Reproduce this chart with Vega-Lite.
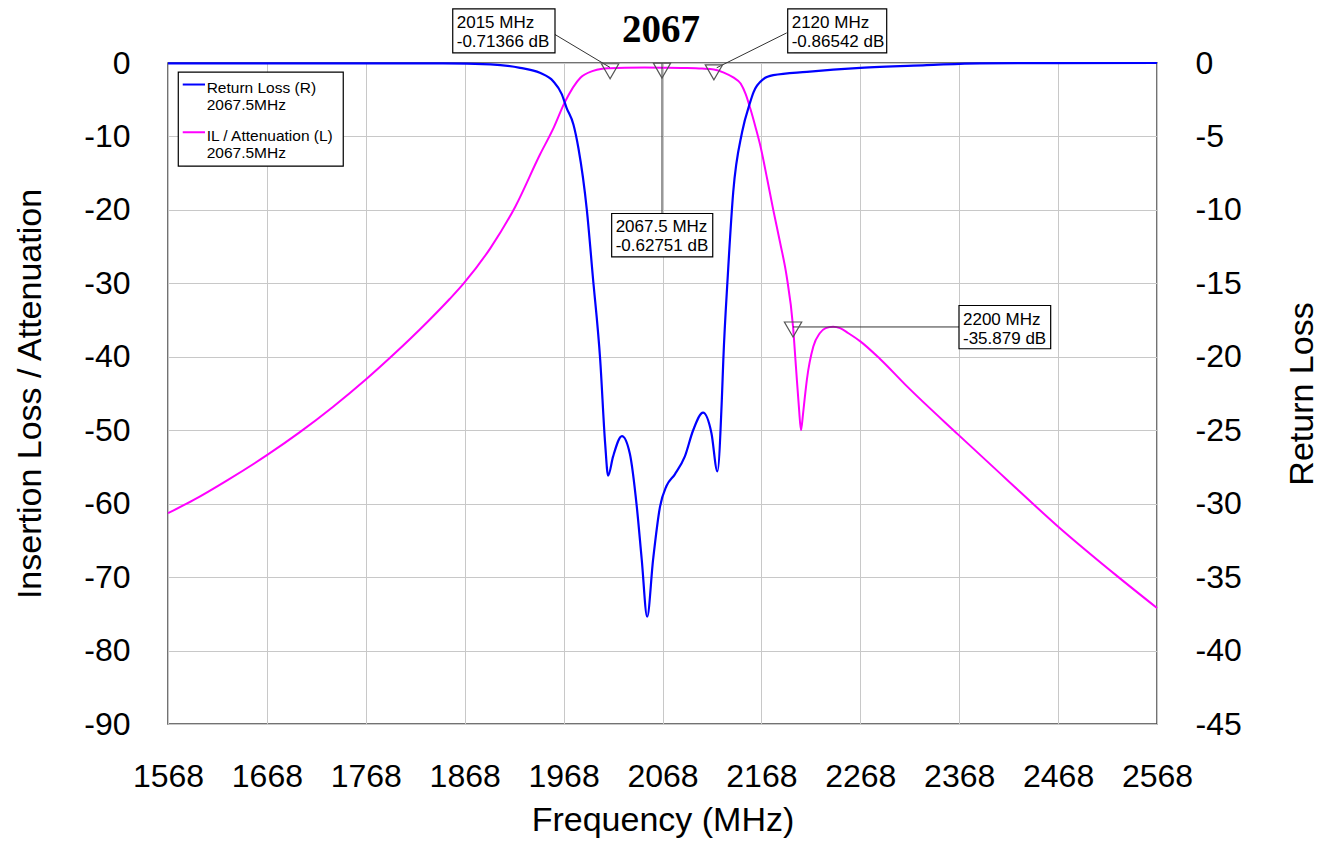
{
  "$schema": "https://vega.github.io/schema/vega-lite/v6.json",
  "width": 989,
  "height": 661,
  "autosize": {"type": "none"},
  "padding": {"left": 168, "top": 63, "right": 170, "bottom": 118},
  "background": "white",
  "config": {
    "font": "Liberation Sans",
    "view": {"stroke": "#444444", "strokeWidth": 1.5},
    "axis": {"ticks": false, "domain": false, "labelFont": "Liberation Sans", "titleFont": "Liberation Sans", "labelColor": "#000000", "titleColor": "#000000", "titleFontWeight": "normal", "labelFontSize": 32, "titleFontSize": 34, "gridColor": "#c8c8c8", "gridWidth": 1, "gridOpacity": 1, "labelExpr": "toString(datum.value)"}
  },
  "datasets": {
    "il": [
      {"x": 1568, "y": -61.3}, {"x": 1594, "y": -59.5}, {"x": 1627, "y": -56.9}, {"x": 1668, "y": -53.4},
      {"x": 1701, "y": -50.3}, {"x": 1735, "y": -46.8}, {"x": 1768, "y": -43.1}, {"x": 1796, "y": -39.7},
      {"x": 1830, "y": -35.3}, {"x": 1853, "y": -32.1}, {"x": 1867, "y": -30.0}, {"x": 1894, "y": -25.2},
      {"x": 1919, "y": -19.6}, {"x": 1944, "y": -12.5}, {"x": 1958, "y": -8.8}, {"x": 1969, "y": -5.4},
      {"x": 1985, "y": -2.0}, {"x": 1997, "y": -1.1}, {"x": 2007, "y": -0.78}, {"x": 2015, "y": -0.71},
      {"x": 2030, "y": -0.64}, {"x": 2050, "y": -0.61}, {"x": 2067.5, "y": -0.63}, {"x": 2090, "y": -0.67},
      {"x": 2108, "y": -0.75}, {"x": 2120, "y": -0.87}, {"x": 2130, "y": -1.3}, {"x": 2140, "y": -2.0},
      {"x": 2147, "y": -2.8}, {"x": 2152, "y": -4.2}, {"x": 2157, "y": -6.3}, {"x": 2162, "y": -8.7},
      {"x": 2167, "y": -11.3}, {"x": 2174, "y": -15.9}, {"x": 2180, "y": -20.0}, {"x": 2187, "y": -24.5},
      {"x": 2193.5, "y": -29.0}, {"x": 2200, "y": -35.9}, {"x": 2203, "y": -41.5}, {"x": 2206, "y": -47.0},
      {"x": 2208, "y": -50.0}, {"x": 2210, "y": -47.9}, {"x": 2212, "y": -45.4}, {"x": 2214, "y": -43.1},
      {"x": 2220.5, "y": -38.6}, {"x": 2227, "y": -36.8}, {"x": 2233, "y": -36.1}, {"x": 2240.5, "y": -35.9},
      {"x": 2247.5, "y": -36.1}, {"x": 2256, "y": -36.8}, {"x": 2268, "y": -37.9}, {"x": 2288, "y": -40.3},
      {"x": 2315, "y": -44.0}, {"x": 2367, "y": -50.6}, {"x": 2416, "y": -56.7}, {"x": 2467, "y": -63.0},
      {"x": 2529, "y": -70.0}, {"x": 2568, "y": -74.2}
    ],
    "rl": [
      {"x": 1568, "y": -0.02}, {"x": 1846, "y": -0.03}, {"x": 1894, "y": -0.1}, {"x": 1924, "y": -0.33},
      {"x": 1944, "y": -0.67}, {"x": 1957.5, "y": -1.24}, {"x": 1966, "y": -2.1}, {"x": 1971, "y": -3.05},
      {"x": 1978, "y": -4.2}, {"x": 1983, "y": -5.8}, {"x": 1991.5, "y": -10.0}, {"x": 1997.5, "y": -14.5},
      {"x": 2005, "y": -20.2}, {"x": 2010, "y": -25.9}, {"x": 2013, "y": -28.1}, {"x": 2018, "y": -26.8},
      {"x": 2027, "y": -25.4}, {"x": 2035, "y": -26.6}, {"x": 2042, "y": -30.2}, {"x": 2047, "y": -33.8},
      {"x": 2052.5, "y": -37.7}, {"x": 2058.5, "y": -33.8}, {"x": 2065.5, "y": -30.2}, {"x": 2072, "y": -28.8},
      {"x": 2080.5, "y": -28.0}, {"x": 2090.5, "y": -26.8}, {"x": 2099, "y": -25.0}, {"x": 2109, "y": -23.8},
      {"x": 2117.5, "y": -25.2}, {"x": 2123.5, "y": -27.8}, {"x": 2128, "y": -22.9}, {"x": 2129.5, "y": -20.2},
      {"x": 2134, "y": -14.5}, {"x": 2139.5, "y": -8.8}, {"x": 2148.5, "y": -4.7}, {"x": 2156.5, "y": -2.7},
      {"x": 2160, "y": -2.0}, {"x": 2170, "y": -1.1}, {"x": 2180, "y": -0.83}, {"x": 2214, "y": -0.6},
      {"x": 2268, "y": -0.33}, {"x": 2335, "y": -0.15}, {"x": 2389, "y": -0.02}, {"x": 2568, "y": 0}
    ],
    "markers": [
      {"x": 2015, "y": -0.71366}, {"x": 2067.5, "y": -0.62751}, {"x": 2120, "y": -0.86542}, {"x": 2200, "y": -35.879}
    ],
    "leaders": [
      {"x": 1959.3, "y": 3.88, "x2": 2014.9, "y2": -0.6},
      {"x": 2193.6, "y": 4.1, "x2": 2122.8, "y2": -0.65},
      {"x": 2067.5, "y": 0, "x2": 2067.5, "y2": -20.49},
      {"x": 2200, "y": -35.94, "x2": 2367.8, "y2": -35.94}
    ],
    "boxes": [
      {"x": 1855.9, "x2": 1959.3, "y": 7.38, "y2": 1.39, "label": "2015 MHz\n-0.71366 dB"},
      {"x": 2194.6, "x2": 2294.7, "y": 7.38, "y2": 1.39, "label": "2120 MHz\n-0.86542 dB"},
      {"x": 2016.6, "x2": 2118.8, "y": -20.49, "y2": -26.39, "label": "2067.5 MHz\n-0.62751 dB"},
      {"x": 2367.8, "x2": 2460.5, "y": -33.02, "y2": -38.91, "label": "2200 MHz\n-35.879 dB"}
    ],
    "legendbox": [
      {"x": 1578.4, "x2": 1745.2, "y": -1.25, "y2": -14.05}
    ],
    "legendlines": [
      {"x": 1582.9, "x2": 1605.4, "y": -2.93, "s": "Return Loss (R)"},
      {"x": 1582.9, "x2": 1605.4, "y": -9.43, "s": "IL / Attenuation (L)"}
    ],
    "legendtext": [
      {"x": 1607.1, "y": -2.45, "label": "Return Loss (R)\n2067.5MHz"},
      {"x": 1607.1, "y": -8.95, "label": "IL / Attenuation (L)\n2067.5MHz"}
    ],
    "heading": [
      {"x": 2066.5, "y": 2.8, "label": "2067"}
    ]
  },
  "encoding": {
    "x": {
      "field": "x", "type": "quantitative",
      "scale": {"domain": [1568, 2568], "nice": false, "zero": false},
      "axis": {"title": "Frequency (MHz)", "values": [1568, 1668, 1768, 1868, 1968, 2068, 2168, 2268, 2368, 2468, 2568], "labelPadding": 37, "labelBaseline": "top", "grid": true, "titleY": 96, "titleBaseline": "middle", "labelFlush": false, "labelOverlap": false}
    }
  },
  "layer": [
    {
      "encoding": {
        "y": {
          "field": "y", "type": "quantitative",
          "scale": {"domain": [-90, 0], "nice": false, "zero": false},
          "axis": {"orient": "left", "title": "Insertion Loss / Attenuation", "values": [-90, -80, -70, -60, -50, -40, -30, -20, -10, 0], "labelPadding": 38, "grid": true, "titleX": -138, "titleY": 330.5, "titleAngle": -90, "titleBaseline": "middle", "titleAlign": "center", "labelFlush": false, "labelOverlap": false}
        }
      },
      "layer": [
        {"data": {"name": "il"}, "mark": {"type": "line", "color": "#ff00ff", "strokeWidth": 2, "interpolate": "monotone"}},
        {"data": {"name": "leaders"}, "mark": {"type": "rule", "color": "#333333", "strokeWidth": 1}, "encoding": {"x2": {"field": "x2"}, "y2": {"field": "y2"}}},
        {"data": {"name": "markers"}, "mark": {"type": "point", "shape": "triangle-down", "filled": false, "color": "#555555", "strokeWidth": 1.2, "size": 300, "yOffset": 3, "opacity": 1}},
        {"data": {"name": "boxes"}, "mark": {"type": "rect", "color": "#808080", "xOffset": 6, "yOffset": 6}, "encoding": {"x2": {"field": "x2"}, "y2": {"field": "y2"}}},
        {"data": {"name": "boxes"}, "mark": {"type": "rect", "fill": "#ffffff", "stroke": "#000000", "strokeWidth": 1.2}, "encoding": {"x2": {"field": "x2"}, "y2": {"field": "y2"}}},
        {"data": {"name": "boxes"}, "mark": {"type": "text", "align": "left", "baseline": "top", "dx": 4, "dy": 6, "fontSize": 17, "lineHeight": 19, "lineBreak": "\n", "color": "#000000", "font": "Liberation Sans"}, "encoding": {"text": {"field": "label"}}},
        {"data": {"name": "legendbox"}, "mark": {"type": "rect", "color": "#808080", "xOffset": 6, "yOffset": 6}, "encoding": {"x2": {"field": "x2"}, "y2": {"field": "y2"}}},
        {"data": {"name": "legendbox"}, "mark": {"type": "rect", "fill": "#ffffff", "stroke": "#000000", "strokeWidth": 1.2}, "encoding": {"x2": {"field": "x2"}, "y2": {"field": "y2"}}},
        {"data": {"name": "legendlines"}, "mark": {"type": "rule", "strokeWidth": 2}, "encoding": {"x2": {"field": "x2"}, "color": {"field": "s", "type": "nominal", "scale": {"domain": ["Return Loss (R)", "IL / Attenuation (L)"], "range": ["#0000ff", "#ff00ff"]}, "legend": null}}},
        {"data": {"name": "legendtext"}, "mark": {"type": "text", "align": "left", "baseline": "top", "fontSize": 15.5, "lineHeight": 17, "lineBreak": "\n", "color": "#000000", "font": "Liberation Sans"}, "encoding": {"text": {"field": "label"}}},
        {"data": {"name": "heading"}, "mark": {"type": "text", "align": "center", "baseline": "alphabetic", "fontSize": 39, "fontWeight": "bold", "color": "#000000", "font": "Liberation Serif"}, "encoding": {"text": {"field": "label"}}}
      ]
    },
    {
      "data": {"name": "rl"},
      "mark": {"type": "line", "color": "#0000ff", "strokeWidth": 2.2, "interpolate": "monotone"},
      "encoding": {
        "y": {
          "field": "y", "type": "quantitative",
          "scale": {"domain": [-45, 0], "nice": false, "zero": false},
          "axis": {"orient": "right", "title": "Return Loss", "values": [-45, -40, -35, -30, -25, -20, -15, -10, -5, 0], "labelPadding": 38, "grid": false, "titleX": 145, "titleY": 330.5, "titleAngle": -90, "titleBaseline": "middle", "titleAlign": "center", "labelFlush": false, "labelOverlap": false}
        }
      }
    }
  ],
  "resolve": {"scale": {"y": "independent", "color": "independent"}}
}
